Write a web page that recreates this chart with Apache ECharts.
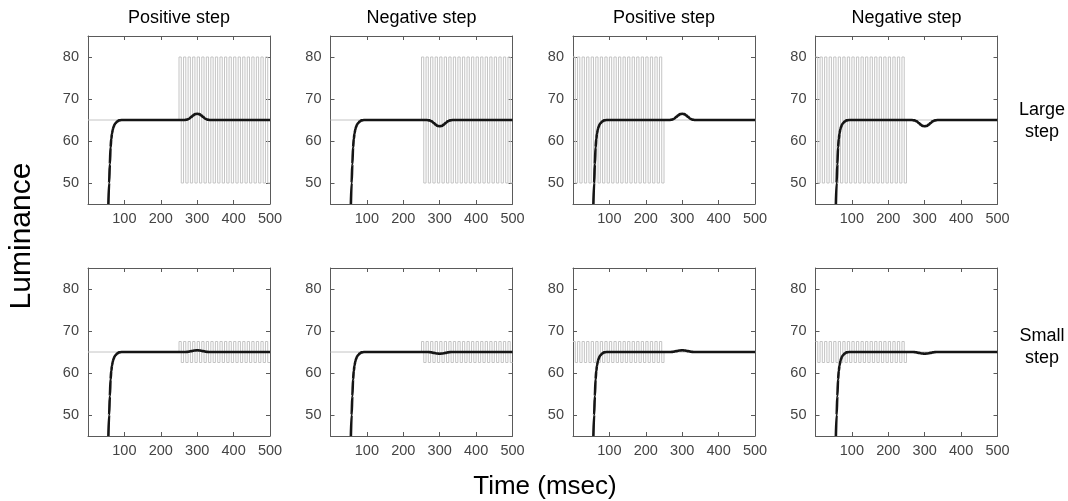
<!DOCTYPE html>
<html><head><meta charset="utf-8">
<script src="https://cdn.jsdelivr.net/npm/echarts@6/dist/echarts.min.js"></script>
<style>html,body{margin:0;padding:0;background:#fff}#c{width:1068px;height:501px}</style>
</head><body><div id="c"></div>
<script>
// ---- data ----
const columnTitles = ['Positive step', 'Negative step', 'Positive step', 'Negative step'];
const rowTitles = ['Large\nstep', 'Small\nstep'];
const xTicks = [100, 200, 300, 400, 500];
const yTicks = [50, 60, 70, 80];
const baseLevel = 65;
const flickerLateOnsets = [250, 262.5, 275, 287.5, 300, 312.5, 325, 337.5, 350, 362.5, 375, 387.5, 400, 412.5, 425, 437.5, 450, 462.5, 475, 487.5];
const flickerEarlyOnsets = [0, 12.5, 25, 37.5, 50, 62.5, 75, 87.5, 100, 112.5, 125, 137.5, 150, 162.5, 175, 187.5, 200, 212.5, 225, 237.5];
const flickerHalfPeriod = 6.25;
const flickerLargeLevels = [80, 50];
const flickerSmallLevels = [67.5, 62.5];
const respTime      = [56, 58, 60, 62, 64, 66, 68, 70, 73, 76, 80, 85, 92, 265, 272, 278, 284, 289, 294, 300, 306, 311, 316, 322, 328, 335, 500];
const respLargePos  = [45, 50, 54.5, 58.5, 60.5, 61.8, 62.7, 63.3, 63.9, 64.3, 64.65, 64.9, 65, 65, 65.1, 65.3, 65.75, 66.1, 66.4, 66.5, 66.4, 66.1, 65.75, 65.3, 65.1, 65, 65];
const respLargeNeg  = [45, 50, 54.5, 58.5, 60.5, 61.8, 62.7, 63.3, 63.9, 64.3, 64.65, 64.9, 65, 65, 64.9, 64.7, 64.25, 63.9, 63.6, 63.5, 63.6, 63.9, 64.25, 64.7, 64.9, 65, 65];
const respSmallPos  = [45, 50, 54.5, 58.5, 60.5, 61.8, 62.7, 63.3, 63.9, 64.3, 64.65, 64.9, 65, 65, 65.03, 65.1, 65.2, 65.3, 65.37, 65.4, 65.37, 65.3, 65.2, 65.1, 65.03, 65, 65];
const respSmallNeg  = [45, 50, 54.5, 58.5, 60.5, 61.8, 62.7, 63.3, 63.9, 64.3, 64.65, 64.9, 65, 65, 64.97, 64.9, 64.8, 64.7, 64.63, 64.6, 64.63, 64.7, 64.8, 64.9, 64.97, 65, 65];

// ---- layout ----
const FONT = 'Liberation Sans, Arial, Helvetica, sans-serif';
const gridLefts = [88, 330.5, 573, 815.5];
const gridTops = [36, 268];
const gridW = 182, gridH = 168;
const AXIS_COLOR = '#5a5a5a';
const LABEL_COLOR = '#444';

function flickerPoints(onsets, levels, late) {
  const pts = [];
  if (late) { pts.push([0, baseLevel], [onsets[0], baseLevel]); }
  onsets.forEach(o => {
    pts.push([o, levels[0]], [o + flickerHalfPeriod, levels[0]], [o + flickerHalfPeriod, levels[1]], [o + 2 * flickerHalfPeriod, levels[1]]);
  });
  if (!late) {
    const end = onsets[onsets.length - 1] + 2 * flickerHalfPeriod;
    pts.push([end, baseLevel], [500, baseLevel]);
  }
  return pts;
}

const grids = [], xAxes = [], yAxes = [], series = [], graphics = [];
const responses = [[respLargePos, respLargeNeg, respLargePos, respLargeNeg], [respSmallPos, respSmallNeg, respSmallPos, respSmallNeg]];

for (let r = 0; r < 2; r++) {
  for (let c = 0; c < 4; c++) {
    const g = grids.length;
    grids.push({ left: gridLefts[c], top: gridTops[r], width: gridW, height: gridH, containLabel: false });
    const axisCommon = {
      axisLine: { show: true, onZero: false, lineStyle: { color: AXIS_COLOR, width: 1 } },
      axisTick: { show: true, inside: true, length: 4, lineStyle: { color: AXIS_COLOR } },
      splitLine: { show: false }
    };
    xAxes.push(Object.assign({}, axisCommon, {
      type: 'value', gridIndex: g, min: 0, max: 500, position: 'bottom',
      axisTick: Object.assign({}, axisCommon.axisTick, { customValues: xTicks }),
      axisLabel: { customValues: xTicks, color: LABEL_COLOR, fontSize: 14.5, fontFamily: FONT, margin: 7 }
    }));
    xAxes.push(Object.assign({}, axisCommon, {
      type: 'value', gridIndex: g, min: 0, max: 500, position: 'top',
      axisTick: Object.assign({}, axisCommon.axisTick, { customValues: xTicks }),
      axisLabel: { show: false }
    }));
    yAxes.push(Object.assign({}, axisCommon, {
      type: 'value', gridIndex: g, min: 45, max: 85, position: 'left',
      axisTick: Object.assign({}, axisCommon.axisTick, { customValues: yTicks }),
      axisLabel: { customValues: yTicks, color: LABEL_COLOR, fontSize: 14.5, fontFamily: FONT, margin: 9 }
    }));
    yAxes.push(Object.assign({}, axisCommon, {
      type: 'value', gridIndex: g, min: 45, max: 85, position: 'right',
      axisTick: Object.assign({}, axisCommon.axisTick, { customValues: yTicks }),
      axisLabel: { show: false }
    }));
    const late = c < 2;
    const levels = r === 0 ? flickerLargeLevels : flickerSmallLevels;
    series.push({
      type: 'line', xAxisIndex: 2 * g, yAxisIndex: 2 * g, z: 2,
      data: flickerPoints(late ? flickerLateOnsets : flickerEarlyOnsets, levels, late),
      showSymbol: false, symbol: 'none', silent: true, animation: false,
      lineStyle: { color: '#c4c4c4', width: 1 }
    });
    const resp = responses[r][c];
    series.push({
      type: 'line', xAxisIndex: 2 * g, yAxisIndex: 2 * g, z: 5,
      data: respTime.map((t, i) => [t, resp[i]]),
      showSymbol: false, symbol: 'none', silent: true, animation: false,
      smooth: 0.35, smoothMonotone: 'x',
      lineStyle: { color: '#151515', width: 2.6 }
    });
  }
}

columnTitles.forEach((t, c) => {
  graphics.push({ type: 'text', x: gridLefts[c] + gridW / 2, y: 18,
    style: { text: t, fill: '#000', font: '18px ' + FONT, textAlign: 'center', textVerticalAlign: 'middle' } });
});
rowTitles.forEach((t, r) => {
  graphics.push({ type: 'text', x: 1042, y: gridTops[r] + gridH / 2 + (r === 0 ? 1 : -5),
    style: { text: t, fill: '#000', font: '18px ' + FONT, textAlign: 'center', textVerticalAlign: 'middle', lineHeight: 22 } });
});
graphics.push({ type: 'text', x: 22, y: 236, rotation: Math.PI / 2,
  style: { text: 'Luminance', fill: '#000', font: '30px ' + FONT, textAlign: 'center', textVerticalAlign: 'middle' } });
graphics.push({ type: 'text', x: 545, y: 487,
  style: { text: 'Time (msec)', fill: '#000', font: '26px ' + FONT, textAlign: 'center', textVerticalAlign: 'middle' } });

const chart = echarts.init(document.getElementById('c'), null, { renderer: 'canvas' });
chart.setOption({
  animation: false,
  backgroundColor: '#fff',
  grid: grids, xAxis: xAxes, yAxis: yAxes, series: series,
  graphic: graphics
});
</script></body></html>
